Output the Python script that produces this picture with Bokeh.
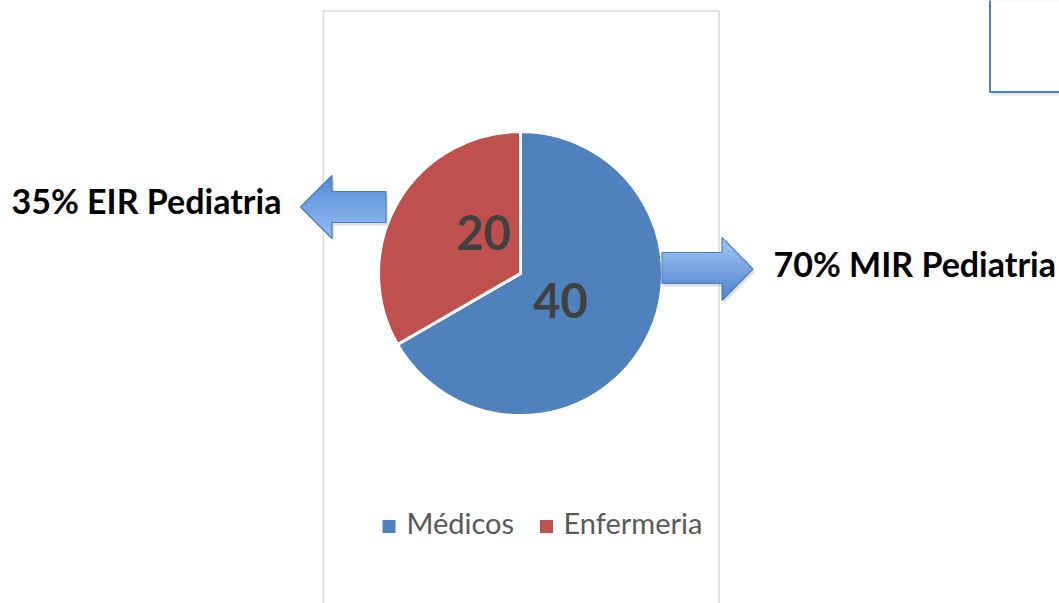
import numpy as np
from bokeh.plotting import figure
from bokeh.models import Range1d
from bokeh.core.properties import value
from bokeh.embed import file_html
from bokeh.resources import INLINE

W, H = 1059, 603

# --- data ---
categories = ["Médicos", "Enfermeria"]
counts = [40, 20]
slice_colors = ["#4F81BD", "#C0504D"]
callout_texts = ["35% EIR Pediatria", "70% MIR Pediatria"]

FONT = "Lato"


def Y(v):
    """Page coordinates have y growing downward; the plot's y grows upward."""
    return H - v


p = figure(width=W, height=H, output_backend="svg", toolbar_location=None,
           x_range=Range1d(0, W), y_range=Range1d(0, H),
           x_axis_location=None, y_axis_location=None,
           min_border=0, outline_line_color=None, background_fill_color="white")
p.grid.visible = False

# chart area frame
p.quad(left=[323], right=[718.5], top=[Y(10.5)], bottom=[Y(640)],
       fill_color="white", line_color="#D9D9D9", line_width=1.5)

# top-right text box with its shadow
p.quad(left=[992], right=[1080], top=[Y(-20)], bottom=[Y(95)],
       fill_color="#BFBFBF", fill_alpha=0.45, line_color=None)
p.quad(left=[989.5], right=[1075], top=[Y(-20)], bottom=[Y(91.5)],
       fill_color="white", line_color="#4F81BD", line_width=2)

# --- pie ---
cx, cy, R = 520, 273, 142
total = float(sum(counts))
ang = 90.0
starts, ends = [], []
for c in counts:
    sweep = 360.0 * c / total
    # slices run clockwise from 12 o'clock
    starts.append(np.radians(ang - sweep))
    ends.append(np.radians(ang))
    ang -= sweep
p.wedge(x=[cx] * len(counts), y=[Y(cy)] * len(counts), radius=R, radius_units="screen",
        start_angle=starts, end_angle=ends, direction="anticlock",
        fill_color=slice_colors, line_color="white", line_width=3)

# value labels inside the slices
label_pos = [(560, 300), (483, 232)]
p.text(x=[q[0] for q in label_pos], y=[Y(q[1]) for q in label_pos],
       text=[str(c) for c in counts], text_font=value(FONT), text_font_style="bold",
       text_font_size="47px", text_color="#404040",
       text_align="center", text_baseline="middle")


# --- block arrows with a vertical gradient ---
def clip_band(poly, y0, y1):
    def clip(pts, keep, inter):
        out = []
        n = len(pts)
        for i in range(n):
            a, b = pts[i], pts[(i + 1) % n]
            ka, kb = keep(a), keep(b)
            if ka:
                out.append(a)
            if ka != kb:
                out.append(inter(a, b))
        return out

    def at_y(yc):
        def f(a, b):
            t = (yc - a[1]) / (b[1] - a[1])
            return (a[0] + t * (b[0] - a[0]), yc)
        return f

    pts = clip(poly, lambda q: q[1] >= y0, at_y(y0))
    if not pts:
        return pts
    return clip(pts, lambda q: q[1] <= y1, at_y(y1))


def draw_arrow(shaft_x0, shaft_x1, shaft_top, shaft_bot, head_top, head_bot, tip_x,
               c_top, c_bot):
    mid = (head_top + head_bot) / 2
    if tip_x < shaft_x0:
        base = shaft_x0
        outline = [(tip_x, mid), (base, head_top), (base, shaft_top), (shaft_x1, shaft_top),
                   (shaft_x1, shaft_bot), (base, shaft_bot), (base, head_bot)]
        rect = [(base, shaft_top), (shaft_x1, shaft_top), (shaft_x1, shaft_bot), (base, shaft_bot)]
        tri = [(tip_x, mid), (base, head_top), (base, head_bot)]
    else:
        base = shaft_x1
        outline = [(tip_x, mid), (base, head_bot), (base, shaft_bot), (shaft_x0, shaft_bot),
                   (shaft_x0, shaft_top), (base, shaft_top), (base, head_top)]
        rect = [(shaft_x0, shaft_top), (base, shaft_top), (base, shaft_bot), (shaft_x0, shaft_bot)]
        tri = [(tip_x, mid), (base, head_top), (base, head_bot)]
    # soft drop shadow
    p.patch([q[0] + 2 for q in outline], [Y(q[1] + 3) for q in outline],
            fill_color="#808080", fill_alpha=0.25, line_color=None)
    n = 24
    edges = np.linspace(head_top, head_bot, n + 1)
    xs, ys, cols = [], [], []
    for i in range(n):
        y0, y1 = edges[i], edges[i + 1]
        t = (i + 0.5) / n
        col = "#%02x%02x%02x" % tuple(int(round(a + (b - a) * t)) for a, b in zip(c_top, c_bot))
        for shape in (rect, tri):
            part = clip_band(shape, y0 - 0.3, y1 + 0.3)
            if len(part) >= 3:
                xs.append([q[0] for q in part])
                ys.append([Y(q[1]) for q in part])
                cols.append(col)
    p.patches(xs, ys, fill_color=cols, line_color=None)
    p.patch([q[0] for q in outline], [Y(q[1]) for q in outline],
            fill_color=None, line_color="#4A7EBB", line_width=1.2)


draw_arrow(331.5, 385.5, 191, 222, 175, 238, 300, (86, 138, 212), (146, 190, 242))
draw_arrow(661.5, 721.5, 252, 283, 237, 300, 752.5, (164, 199, 246), (78, 130, 206))

# callout texts
p.text(x=[11, 773], y=[Y(200), Y(263)], text=callout_texts,
       text_font=value(FONT), text_font_style="bold", text_font_size="34px",
       text_color="black", text_align="left", text_baseline="alphabetic")

# --- legend ---
sq_x = [388.5, 546]
txt_x = [406, 563]
p.rect(x=sq_x, y=[Y(526)] * 2, width=13, height=13, width_units="screen",
       height_units="screen", fill_color=slice_colors, line_color=None)
p.text(x=txt_x, y=[Y(522)] * 2, text=categories, text_font=value(FONT),
       text_font_size="29px", text_color="#595959", text_align="left",
       text_baseline="alphabetic")

open("out.html", "w").write(file_html(p, INLINE))
